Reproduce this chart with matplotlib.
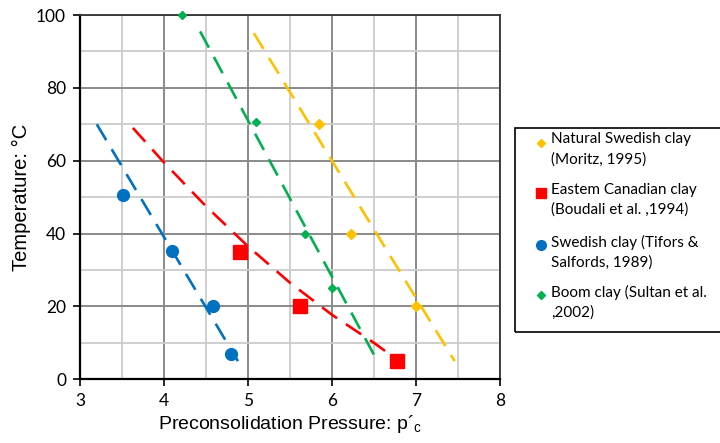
import matplotlib
matplotlib.use("Agg")
import matplotlib.pyplot as plt
from matplotlib.lines import Line2D
from matplotlib.patches import Rectangle
from matplotlib.ticker import MultipleLocator

# ---- data ----
nat_x = [5.84, 6.23, 7.00]
nat_y = [70, 40, 20]
nat_trend_x = [5.07, 7.46]
nat_trend_y = [95, 5]

can_x = [4.91, 5.62, 6.77]
can_y = [35, 20, 5]
can_trend_x = [3.63, 4.0, 4.5, 5.0, 5.5, 6.0, 6.5, 6.72]
can_trend_y = [69, 59.5, 47.5, 36.5, 26.5, 17.7, 10.0, 6.3]

swe_x = [3.51, 4.10, 4.58, 4.80]
swe_y = [50.5, 35.3, 20, 7]
swe_trend_x = [3.20, 4.88]
swe_trend_y = [70, 5]

boom_x = [4.22, 5.09, 5.68, 6.00]
boom_y = [100, 70.5, 40, 25]
boom_trend_x = [4.43, 6.54]
boom_trend_y = [95.5, 5]

labels = ["Natural Swedish clay\n(Moritz, 1995)",
          "Eastem Canadian clay\n(Boudali et al. ,1994)",
          "Swedish clay (Tifors &\nSalfords, 1989)",
          "Boom clay (Sultan et al.\n,2002)"]

xticks = [3, 4, 5, 6, 7, 8]
yticks = [0, 20, 40, 60, 80, 100]

C_YEL = "#FFC000"
C_RED = "#FF0000"
C_BLU = "#0070C0"
C_GRN = "#00B050"

W, H = 720, 443
fig = plt.figure(figsize=(W / 100, H / 100), dpi=100)
ax = fig.add_axes([80 / W, 1 - 379.3 / H, 420 / W, (379.3 - 15) / H])

ax.set_xlim(3, 8)
ax.set_ylim(0, 100)
ax.set_xticks(xticks)
ax.set_yticks(yticks)
ax.xaxis.set_minor_locator(MultipleLocator(0.5))
ax.yaxis.set_minor_locator(MultipleLocator(10))
ax.grid(True, which="major", color="#8a8a8a", lw=1.4, zorder=0)
ax.grid(True, which="minor", color="#cccccc", lw=1.3, zorder=0)
ax.tick_params(which="minor", length=0)
ax.tick_params(which="major", direction="out", length=5, width=1.2, color="black",
               labelsize=12.5, pad=5)
for lab in ax.get_xticklabels() + ax.get_yticklabels():
    lab.set_family("Lato")
ax.set_axisbelow(True)
for s in ax.spines.values():
    s.set_color("black")
    s.set_linewidth(1.6)
ax.spines["top"].set_color("#333333")
ax.spines["right"].set_color("#333333")
ax.spines["top"].set_linewidth(1.3)
ax.spines["right"].set_linewidth(1.3)

dash = (7, 4)
ax.plot(nat_trend_x, nat_trend_y, color=C_YEL, lw=1.9, dashes=dash, zorder=3)
ax.plot(can_trend_x, can_trend_y, color=C_RED, lw=1.9, dashes=dash, zorder=3)
ax.plot(swe_trend_x, swe_trend_y, color=C_BLU, lw=1.9, dashes=dash, zorder=3)
ax.plot(boom_trend_x, boom_trend_y, color=C_GRN, lw=1.9, dashes=dash, zorder=3)

ax.plot(nat_x, nat_y, "D", color=C_YEL, ms=5.5, ls="none", zorder=4, clip_on=False)
ax.plot(can_x, can_y, "s", color=C_RED, ms=9.5, ls="none", zorder=4, clip_on=False)
ax.plot(swe_x, swe_y, "o", color=C_BLU, ms=8.5, ls="none", zorder=4, clip_on=False)
ax.plot(boom_x, boom_y, "D", color=C_GRN, ms=4.5, ls="none", zorder=4, clip_on=False)

ax.set_xlabel("Preconsolidation Pressure: p\u00b4$_\\mathregular{c}$", fontsize=14,
              family="Liberation Sans", labelpad=3)
ax.set_ylabel("Temperature: \u00b0C", fontsize=14.5, family="Liberation Sans", labelpad=4)

# legend box (manual)
def fx(px):
    return px / W

def fy(py):
    return 1 - py / H

fig.add_artist(Rectangle((fx(515), fy(331.5)), fx(730) - fx(515), fy(127.5) - fy(331.5),
                         transform=fig.transFigure, fill=False, ec="black", lw=1.2))
markers = [("D", C_YEL, 4.5), ("s", C_RED, 7.5), ("o", C_BLU, 7), ("D", C_GRN, 4.5)]
tops = [142.5, 193, 245, 295]
for (m, c, ms), ty, lab in zip(markers, tops, labels):
    fig.add_artist(Line2D([fx(541)], [fy(ty)], marker=m, color=c, ms=ms, ls="none",
                          transform=fig.transFigure))
    fig.text(fx(551), fy(ty - 10), lab, fontsize=11, family="Lato", va="top",
             ha="left", linespacing=1.5)

fig.savefig("out.png", dpi=100)
